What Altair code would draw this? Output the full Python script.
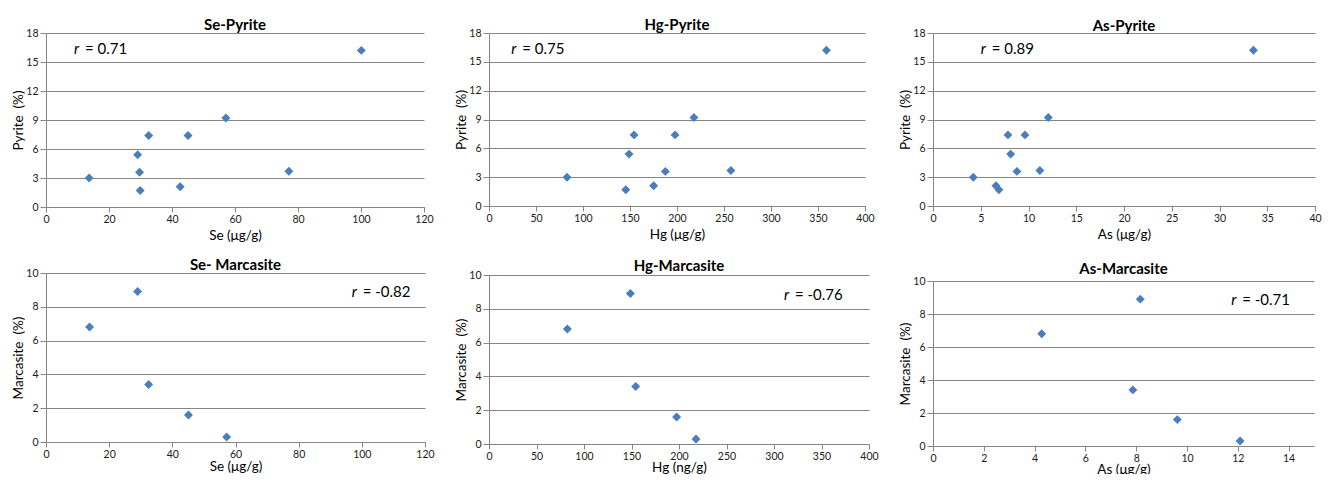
import altair as alt
import pandas as pd

# ---- data ----
pyrite = [16.2, 3.0, 5.4, 3.6, 1.7, 7.4, 2.1, 7.4, 9.2, 3.7]
se_pyrite = [100.1, 13.7, 29.1, 29.7, 29.9, 32.6, 42.6, 45.1, 57.1, 77.1]
hg_pyrite = [359.0, 83.0, 149.0, 187.6, 145.5, 154.3, 175.2, 197.9, 218.0, 257.3]
as_pyrite = [33.55, 4.22, 8.13, 8.79, 6.9, 7.85, 6.59, 9.63, 12.07, 11.19]

marcasite = [6.8, 8.9, 3.4, 1.6, 0.3]
se_marc = [13.8, 29.0, 32.5, 45.1, 57.2]
hg_marc = [82.5, 148.8, 154.4, 197.5, 217.9]
as_marc = [4.28, 8.16, 7.87, 9.62, 12.09]

titles = ["Se-Pyrite", "Hg-Pyrite", "As-Pyrite", "Se- Marcasite", "Hg-Marcasite", "As-Marcasite"]
x_titles = ["Se (μg/g)", "Hg (μg/g)", "As (μg/g)", "Se (μg/g)", "Hg (ng/g)", "As (μg/g)"]
y_titles = ["Pyrite \u00a0(%)"] * 3 + ["Marcasite \u00a0(%)"] * 3
r_values = ["0.71", "0.75", "0.89", "-0.82", "-0.76", "-0.71"]
r_x = [8.9, 23.7, 5.0, 96.8, 310.5, 11.74]
r_y = [16.35, 16.3, 16.3, 8.86, 8.8, 8.87]
x_max = [120, 400, 40, 120, 400, 15]
x_step = [20, 50, 5, 20, 50, 2]
y_max = [18, 18, 18, 10, 10, 10]
y_step = [3, 3, 3, 2, 2, 2]

x_series = [se_pyrite, hg_pyrite, as_pyrite, se_marc, hg_marc, as_marc]
y_series = [pyrite, pyrite, pyrite, marcasite, marcasite, marcasite]

# ---- styling ----
FONT = "Lato"
GRAY = "#868686"
BLUE = "#4a7ebb"
widths = [378, 376, 382, 379, 380, 381]
heights = [174, 173, 173, 169, 169, 165]
title_offsets = [-4.5, -4.5, -5.5, -4.7, -4.1, -1.1]
x_title_pad = [4, 4, 4, 0, -1, -1]
PAD_LEFT, PAD_TOP = 38, 25
SVG_W, SVG_H = 1314, 466


def panel(i):
    df = pd.DataFrame({"x": x_series[i], "y": y_series[i]})
    ann = pd.DataFrame({"x": [r_x[i]], "y": [r_y[i]], "t": ["= " + r_values[i]]})
    xscale = alt.Scale(domain=[0, x_max[i]], nice=False, zero=True)
    yscale = alt.Scale(domain=[0, y_max[i]], nice=False, zero=True)
    xaxis = alt.Axis(
        title=x_titles[i],
        values=list(range(0, x_max[i] + 1, x_step[i])),
        grid=False,
        tickSize=5,
        labelPadding=2,
        titlePadding=x_title_pad[i],
        labelFlush=False,
        labelOverlap=False,
    )
    yaxis = alt.Axis(
        title=y_titles[i],
        values=list(range(0, y_max[i] + 1, y_step[i])),
        grid=True,
        tickSize=6,
        labelPadding=2,
        titlePadding=2,
        minExtent=19,
        maxExtent=19,
        labelOverlap=False,
    )
    enc_x = alt.X("x:Q", scale=xscale, axis=xaxis)
    enc_y = alt.Y("y:Q", scale=yscale, axis=yaxis)
    pts = alt.Chart(df).mark_point(
        shape="diamond", filled=True, size=80, color=BLUE, opacity=1
    ).encode(x=enc_x, y=enc_y)
    r_it = alt.Chart(ann).mark_text(
        text="r", font=FONT, fontSize=15, fontStyle="italic", align="left",
        baseline="middle", color="#000000"
    ).encode(x=enc_x, y=enc_y)
    r_rest = alt.Chart(ann).mark_text(
        font=FONT, fontSize=15, align="left", baseline="middle", dx=11, color="#000000"
    ).encode(x=enc_x, y=enc_y, text="t:N")
    return alt.layer(pts, r_it, r_rest).properties(
        width=widths[i],
        height=heights[i],
        title=alt.TitleParams(
            titles[i], font=FONT, fontSize=15, fontWeight="bold",
            color="#000000", offset=title_offsets[i]
        ),
    )


col1 = alt.vconcat(panel(0), panel(3), spacing=66, bounds="flush")
col2 = alt.vconcat(panel(1), panel(4), spacing=69, bounds="flush")
col3 = alt.vconcat(panel(2), panel(5), spacing=75, bounds="flush")

# fixed-size canvas that fits the window
chart = alt.hconcat(col1, col2, col3, spacing=19).properties(
    autosize=alt.AutoSizeParams(type="none"),
    padding={"left": PAD_LEFT, "top": PAD_TOP,
             "right": SVG_W - PAD_LEFT, "bottom": SVG_H - PAD_TOP},
    background="white",
).configure_view(
    stroke=None
).configure_axis(
    labelFont=FONT,
    labelFontSize=10.5,
    labelColor="#1a1a1a",
    titleFont=FONT,
    titleFontSize=13.5,
    titleFontWeight="normal",
    titleColor="#000000",
    domainColor=GRAY,
    tickColor=GRAY,
    gridColor=GRAY,
    gridOpacity=1,
    domainWidth=1,
    gridWidth=1,
)

chart.save("out.html", embed_options={"renderer": "svg", "actions": False})
